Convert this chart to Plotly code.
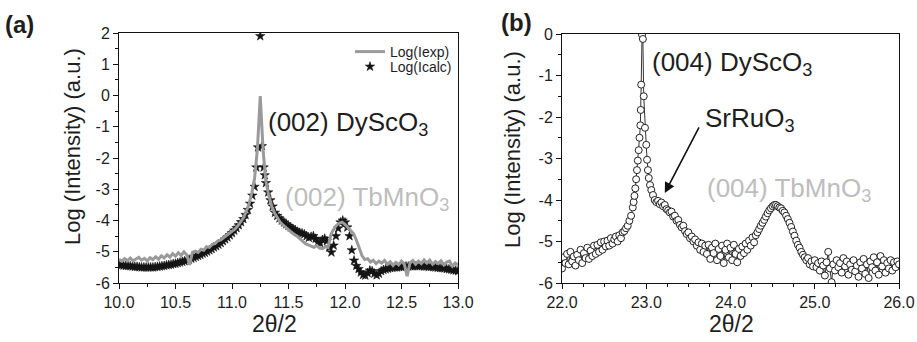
import plotly.graph_objects as go

# ---------------- panel (a): (002) reflection, measured vs calculated ----------------
a_exp_x = [10.000, 10.025, 10.050, 10.075, 10.100, 10.125, 10.150, 10.175, 10.200, 10.225,
           10.250, 10.275, 10.300, 10.325, 10.350, 10.375, 10.400, 10.425, 10.450, 10.475,
           10.500, 10.525, 10.550, 10.575, 10.600, 10.625, 10.650, 10.675, 10.700, 10.725,
           10.750, 10.775, 10.800, 10.825, 10.850, 10.875, 10.900, 10.925, 10.950, 10.975,
           11.000, 11.025, 11.050, 11.075, 11.100, 11.125, 11.150, 11.175, 11.200, 11.225,
           11.250, 11.275, 11.300, 11.325, 11.350, 11.375, 11.400, 11.425, 11.450, 11.475,
           11.500, 11.525, 11.550, 11.575, 11.600, 11.625, 11.650, 11.675, 11.700, 11.725,
           11.750, 11.775, 11.800, 11.825, 11.850, 11.875, 11.900, 11.925, 11.950, 11.975,
           12.000, 12.025, 12.050, 12.075, 12.100, 12.125, 12.150, 12.175, 12.200, 12.225,
           12.250, 12.275, 12.300, 12.325, 12.350, 12.375, 12.400, 12.425, 12.450, 12.475,
           12.500, 12.525, 12.550, 12.575, 12.600, 12.625, 12.650, 12.675, 12.700, 12.725,
           12.750, 12.775, 12.800, 12.825, 12.850, 12.875, 12.900, 12.925, 12.950, 12.975,
           13.000]
a_exp_y = [-5.24, -5.30, -5.22, -5.28, -5.20, -5.29, -5.23, -5.18, -5.27, -5.21,
           -5.29, -5.19, -5.25, -5.16, -5.24, -5.13, -5.20, -5.10, -5.17, -5.06,
           -5.14, -5.03, -5.12, -5.00, -5.10, -5.42, -5.02, -4.98, -5.02, -4.92,
           -4.95, -4.84, -4.86, -4.76, -4.74, -4.65, -4.62, -4.55, -4.50, -4.43,
           -4.36, -4.28, -4.18, -4.06, -3.92, -3.72, -3.48, -3.12, -2.65, -1.70,
           -0.02, -1.75, -2.75, -3.20, -3.52, -3.75, -3.92, -4.05, -4.14, -4.22,
           -4.30, -4.38, -4.45, -4.50, -4.58, -4.66, -4.74, -4.78, -4.82, -4.86,
           -4.80, -4.88, -4.90, -4.84, -4.86, -4.45, -4.28, -4.15, -4.08, -4.05,
           -4.12, -4.22, -4.30, -4.42, -4.62, -4.90, -5.12, -5.25, -5.22, -5.33,
           -5.27, -5.38, -5.30, -5.36, -5.28, -5.40, -5.32, -5.44, -5.34, -5.42,
           -5.30, -5.40, -5.78, -5.36, -5.28, -5.40, -5.30, -5.38, -5.26, -5.36,
           -5.27, -5.40, -5.31, -5.38, -5.29, -5.42, -5.33, -5.30, -5.46, -5.36,
           -5.42]

a_calc_x = [10.00, 10.02, 10.04, 10.06, 10.08, 10.10, 10.12, 10.14, 10.16, 10.18,
            10.20, 10.22, 10.24, 10.26, 10.28, 10.30, 10.32, 10.34, 10.36, 10.38,
            10.40, 10.42, 10.44, 10.46, 10.48, 10.50, 10.52, 10.54, 10.56, 10.58,
            10.60, 10.62, 10.64, 10.66, 10.68, 10.70, 10.72, 10.74, 10.76, 10.78,
            10.80, 10.82, 10.84, 10.86, 10.88, 10.90, 10.92, 10.94, 10.96, 10.98,
            11.00, 11.02, 11.04, 11.06, 11.08, 11.10, 11.12, 11.14, 11.16, 11.18,
            11.20, 11.215, 11.23, 11.25, 11.265, 11.28, 11.29, 11.30, 11.32, 11.34,
            11.36, 11.38, 11.40, 11.42, 11.44, 11.46, 11.48, 11.50, 11.52, 11.54,
            11.56, 11.58, 11.60, 11.62, 11.64, 11.66, 11.68, 11.70, 11.72, 11.74,
            11.76, 11.78, 11.80, 11.82, 11.84, 11.86, 11.88, 11.90, 11.92, 11.94,
            11.96, 11.98, 12.00, 12.02, 12.04, 12.06, 12.08, 12.10, 12.12, 12.14,
            12.16, 12.18, 12.20, 12.22, 12.24, 12.26, 12.28, 12.30, 12.32, 12.34,
            12.36, 12.38, 12.40, 12.42, 12.44, 12.46, 12.48, 12.50, 12.52, 12.54,
            12.56, 12.58, 12.60, 12.62, 12.64, 12.66, 12.68, 12.70, 12.72, 12.74,
            12.76, 12.78, 12.80, 12.82, 12.84, 12.86, 12.88, 12.90, 12.92, 12.94,
            12.96, 12.98, 13.00]
a_calc_y = [-5.42, -5.43, -5.44, -5.45, -5.45, -5.46, -5.47, -5.48, -5.48, -5.49,
            -5.50, -5.50, -5.50, -5.50, -5.50, -5.50, -5.49, -5.48, -5.47, -5.46,
            -5.45, -5.43, -5.42, -5.41, -5.39, -5.38, -5.36, -5.34, -5.32, -5.30,
            -5.27, -5.25, -5.22, -5.19, -5.16, -5.13, -5.10, -5.06, -5.03, -4.99,
            -4.95, -4.91, -4.86, -4.82, -4.77, -4.72, -4.66, -4.60, -4.54, -4.47,
            -4.40, -4.32, -4.24, -4.15, -4.05, -3.95, -3.82, -3.66, -3.46, -3.20,
            -2.92, -2.30, -1.66, 1.90, -1.62, -2.30, -2.55, -2.80, -3.10, -3.35,
            -3.55, -3.75, -3.85, -3.93, -4.00, -4.06, -4.12, -4.17, -4.22, -4.27,
            -4.31, -4.36, -4.39, -4.41, -4.44, -4.50, -4.55, -4.52, -4.50, -4.58,
            -4.70, -4.72, -4.62, -4.58, -4.66, -4.86, -5.02, -4.80, -4.50, -4.25,
            -4.06, -4.00, -4.06, -4.22, -4.50, -4.95, -5.28, -5.45, -5.55, -5.66,
            -5.74, -5.76, -5.68, -5.60, -5.62, -5.70, -5.75, -5.70, -5.62, -5.58,
            -5.56, -5.54, -5.52, -5.51, -5.50, -5.50, -5.49, -5.48, -5.48, -5.47,
            -5.47, -5.46, -5.46, -5.46, -5.46, -5.46, -5.46, -5.47, -5.47, -5.48,
            -5.48, -5.49, -5.50, -5.51, -5.52, -5.52, -5.53, -5.55, -5.56, -5.57,
            -5.59, -5.60, -5.62]

# ---------------- panel (b): (004) reflection ----------------
b_x = [22.00, 22.02, 22.04, 22.06, 22.08, 22.10, 22.12, 22.14, 22.16, 22.18,
       22.20, 22.22, 22.24, 22.26, 22.28, 22.30, 22.32, 22.34, 22.36, 22.38,
       22.40, 22.42, 22.44, 22.46, 22.48, 22.50, 22.52, 22.54, 22.56, 22.58,
       22.60, 22.62, 22.64, 22.66, 22.68, 22.70, 22.72, 22.74, 22.76, 22.78,
       22.80, 22.82, 22.84, 22.85, 22.86, 22.87, 22.88, 22.89, 22.90, 22.91,
       22.92, 22.93, 22.935, 22.94, 22.95, 22.96, 22.97, 22.985, 23.00, 23.01,
       23.02, 23.03, 23.045, 23.06, 23.08, 23.10, 23.12, 23.14, 23.16, 23.18,
       23.20, 23.22, 23.24, 23.26, 23.28, 23.30, 23.32, 23.34, 23.36, 23.38,
       23.40, 23.42, 23.44, 23.46, 23.48, 23.50, 23.52, 23.54, 23.56, 23.58,
       23.60, 23.62, 23.64, 23.66, 23.68, 23.70, 23.72, 23.74, 23.76, 23.78,
       23.80, 23.82, 23.84, 23.86, 23.88, 23.90, 23.92, 23.94, 23.96, 23.98,
       24.00, 24.02, 24.04, 24.06, 24.08, 24.10, 24.12, 24.14, 24.16, 24.18,
       24.20, 24.22, 24.24, 24.26, 24.28, 24.30, 24.32, 24.34, 24.36, 24.38,
       24.40, 24.42, 24.44, 24.46, 24.48, 24.50, 24.52, 24.54, 24.56, 24.58,
       24.60, 24.62, 24.64, 24.66, 24.68, 24.70, 24.72, 24.74, 24.76, 24.78,
       24.80, 24.82, 24.84, 24.86, 24.88, 24.90, 24.92, 24.94, 24.96, 24.98,
       25.00, 25.02, 25.04, 25.06, 25.08, 25.10, 25.12, 25.14, 25.16, 25.18,
       25.20, 25.22, 25.24, 25.26, 25.28, 25.30, 25.32, 25.34, 25.36, 25.38,
       25.40, 25.42, 25.44, 25.46, 25.48, 25.50, 25.52, 25.54, 25.56, 25.58,
       25.60, 25.62, 25.64, 25.66, 25.68, 25.70, 25.72, 25.74, 25.76, 25.78,
       25.80, 25.82, 25.84, 25.86, 25.88, 25.90, 25.92, 25.94, 25.96, 25.98,
       26.00]
b_y = [-5.65, -5.38, -5.52, -5.30, -5.55, -5.25, -5.48, -5.36, -5.58, -5.32,
       -5.45, -5.20, -5.52, -5.28, -5.40, -5.15, -5.42, -5.22, -5.35, -5.10,
       -5.30, -5.08, -5.25, -5.02, -5.20, -5.00, -5.12, -4.98, -5.10, -4.92,
       -5.05, -4.95, -4.88, -5.00, -4.85, -4.92, -4.78, -4.75, -4.68, -4.62,
       -4.50, -4.38, -4.18, -4.05, -3.90, -3.72, -3.50, -3.28, -3.05, -2.80,
       -2.50, -2.20, -1.83, -1.22, -0.02, -0.12, -1.50, -2.26, -2.67, -3.03,
       -3.28, -3.47, -3.64, -3.76, -3.88, -4.00, -4.05, -4.02, -4.10, -4.06,
       -4.15, -4.12, -4.22, -4.25, -4.30, -4.28, -4.40, -4.38, -4.50, -4.48,
       -4.60, -4.66, -4.62, -4.75, -4.82, -4.78, -4.92, -4.88, -5.00, -4.95,
       -5.10, -5.02, -5.20, -5.05, -5.25, -5.10, -5.30, -5.08, -5.42, -5.15,
       -5.28, -5.05, -5.45, -5.18, -5.35, -5.10, -5.52, -5.20, -5.05, -5.38,
       -5.15, -5.45, -5.08, -5.30, -5.50, -5.18, -5.35, -5.12, -5.28, -5.05,
       -5.20, -4.98, -5.10, -4.90, -5.02, -4.85, -4.78, -4.70, -4.62, -4.55,
       -4.48, -4.40, -4.32, -4.25, -4.20, -4.15, -4.12, -4.12, -4.15, -4.18,
       -4.20, -4.26, -4.30, -4.38, -4.46, -4.55, -4.65, -4.76, -4.86, -4.98,
       -5.08, -5.15, -5.25, -5.32, -5.38, -5.45, -5.40, -5.55, -5.48, -5.60,
       -5.45, -5.62, -5.52, -5.70, -5.48, -5.58, -5.82, -5.50, -5.25, -5.65,
       -5.98, -5.55, -5.70, -5.45, -5.62, -5.52, -5.75, -5.40, -5.60, -5.48,
       -5.80, -5.55, -5.68, -5.45, -5.72, -5.58, -5.85, -5.50, -5.65, -5.42,
       -5.78, -5.55, -5.88, -5.48, -5.62, -5.38, -5.70, -5.50, -5.80, -5.35,
       -5.60, -5.45, -5.75, -5.52, -5.65, -5.45, -5.70, -5.50, -5.62, -5.48,
       -5.55]

# tick values / labels
a_xticks = [10.0, 10.5, 11.0, 11.5, 12.0, 12.5, 13.0]
a_yticks = [-6, -5, -4, -3, -2, -1, 0, 1, 2]
b_xticks = [22.0, 23.0, 24.0, 25.0, 26.0]
b_yticks = [-6, -5, -4, -3, -2, -1, 0]

W, H = 917, 342
FONT = "Liberation Sans, Arial, sans-serif"
INK = "#1e1e1e"
GREY_TXT = "#bdbdbd"


def px(v):
    return v / W


def py(v):
    return 1 - v / H


fig = go.Figure()

fig.add_trace(go.Scatter(
    x=a_calc_x, y=a_calc_y, mode="markers", name="Log(Icalc)",
    marker=dict(symbol="star", size=7, color="#151515", line=dict(width=0.6, color="#151515")),
    xaxis="x", yaxis="y", legend="legend2"))
fig.add_trace(go.Scatter(
    x=a_exp_x, y=a_exp_y, mode="lines", name="Log(Iexp)",
    line=dict(color="#9a9a9a", width=3),
    xaxis="x", yaxis="y", legend="legend"))
fig.add_trace(go.Scatter(
    x=b_x, y=b_y, mode="lines+markers", showlegend=False,
    line=dict(color="#333333", width=1),
    marker=dict(symbol="circle", size=7, color="white", line=dict(width=1, color="#222222")),
    xaxis="x2", yaxis="y2"))


def axis_common():
    return dict(showline=True, linecolor="#111", linewidth=1, mirror=True,
                showgrid=False, zeroline=False, ticks="outside", ticklen=5,
                tickwidth=1, tickcolor="#111", automargin=False,
                tickfont=dict(family=FONT, size=16, color=INK))


xa = axis_common()
xa.update(domain=[px(119), px(458)], range=[10, 13], tickvals=a_xticks,
          ticktext=[f"{v:.1f}" for v in a_xticks], anchor="y",
          minor=dict(dtick=0.25, tick0=10, ticks="outside", ticklen=3, tickcolor="#111"))
ya = axis_common()
ya.update(domain=[py(283), py(33)], range=[-6, 2], tickvals=a_yticks,
          ticktext=[str(v) for v in a_yticks], anchor="x",
          minor=dict(dtick=0.5, tick0=0, ticks="outside", ticklen=3, tickcolor="#111"))
xb = axis_common()
xb.update(domain=[px(562), px(899)], range=[22, 26], tickvals=b_xticks,
          ticktext=[f"{v:.1f}" for v in b_xticks], anchor="y2",
          minor=dict(dtick=0.25, tick0=22, ticks="outside", ticklen=3, tickcolor="#111"))
yb = axis_common()
yb.update(domain=[py(283), py(34)], range=[-6, 0], tickvals=b_yticks,
          ticktext=[str(v) for v in b_yticks], anchor="x2",
          minor=dict(dtick=0.5, tick0=0, ticks="outside", ticklen=3, tickcolor="#111"))

ann = []


def text(x, y, s, size, color=INK, xanchor="left", yanchor="middle", angle=0, bold=False):
    ann.append(dict(x=px(x), y=py(y), xref="paper", yref="paper", text=s, showarrow=False,
                    xanchor=xanchor, yanchor=yanchor, textangle=angle,
                    font=dict(family=FONT, size=size, color=color,
                              weight="bold" if bold else "normal")))


# panel tags
text(3, 24, "(a)", 24, bold=True)
text(499, 22, "(b)", 24, bold=True)
# axis titles
text(72, 147, "Log (Intensity) (a.u.)", 22, xanchor="center", angle=-90)
text(512, 150, "Log (Intensity) (a.u.)", 22, xanchor="center", angle=-90)
text(274, 324, "2θ/2", 23, xanchor="center")
text(731, 324, "2θ/2", 23, xanchor="center")
# peak labels
text(266, 123, "(002) DyScO<sub>3</sub>", 26)
text(283, 198, "(002) TbMnO<sub>3</sub>", 26, color=GREY_TXT)
text(650, 63, "(004) DyScO<sub>3</sub>", 26)
text(703, 119, "SrRuO<sub>3</sub>", 26)
text(705, 189, "(004) TbMnO<sub>3</sub>", 26, color=GREY_TXT)

# arrow pointing at the SrRuO3 shoulder
ann.append(dict(x=23.22, y=-3.83, xref="x2", yref="y2", ax=35, ay=-67, text="",
                showarrow=True, arrowhead=2, arrowsize=1.3, arrowwidth=1.6, arrowcolor="#111"))

legend_style = dict(xref="paper", yref="paper", xanchor="left", yanchor="middle",
                    bgcolor="rgba(0,0,0,0)", borderwidth=0,
                    font=dict(family=FONT, size=14, color=INK),
                    itemwidth=30, tracegroupgap=0)

fig.update_layout(
    width=W, height=H, margin=dict(l=0, r=0, t=0, b=0),
    paper_bgcolor="white", plot_bgcolor="white",
    xaxis=xa, yaxis=ya, xaxis2=xb, yaxis2=yb,
    annotations=ann,
    legend=dict(x=px(350), y=py(52), **legend_style),
    legend2=dict(x=px(350), y=py(67), **legend_style),
)

fig.write_html("out.html")
